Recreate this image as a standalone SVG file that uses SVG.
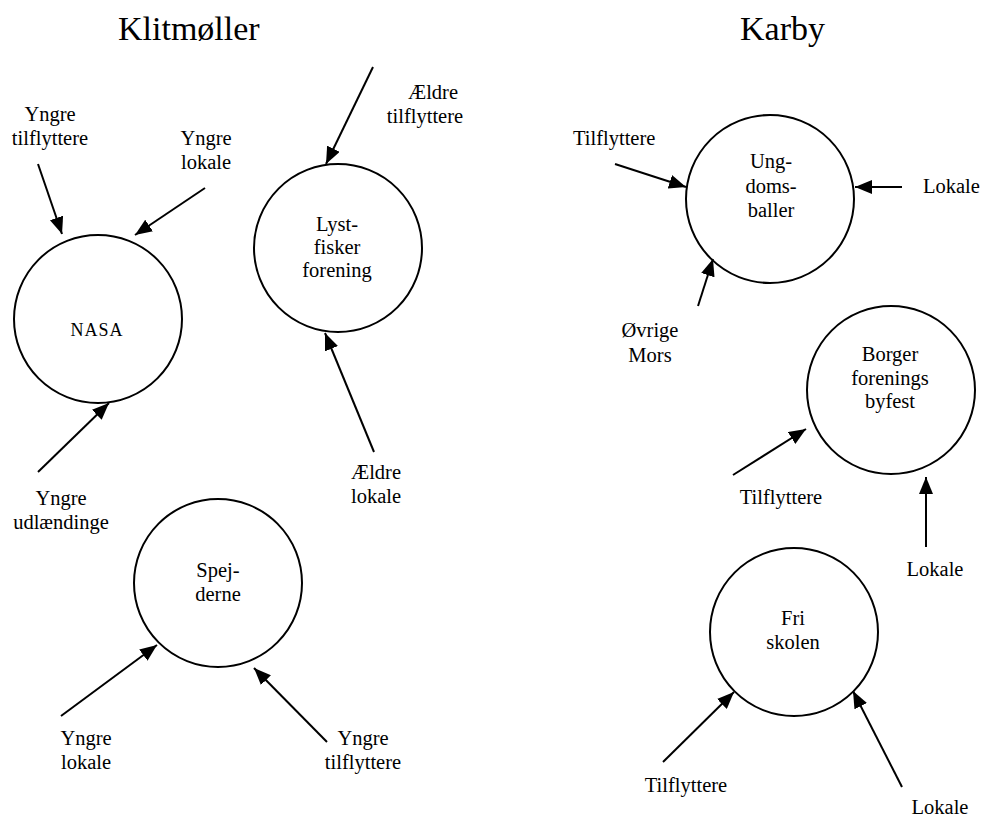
<svg xmlns="http://www.w3.org/2000/svg" width="983" height="820" viewBox="0 0 983 820">
<style>
text{font-family:"Liberation Serif","Times New Roman",serif;font-size:20.5px;fill:#000}
.title{font-size:34px}
.c{fill:#fff;stroke:#000;stroke-width:2}
.m{text-anchor:middle}
#connectors line{stroke:#000;stroke-width:2;marker-end:url(#ah)}
</style>
<defs>
<marker id="ah" markerUnits="userSpaceOnUse" markerWidth="18" markerHeight="14" refX="17" refY="7" orient="auto">
<path d="M0,0 L17,7 L0,14 z" fill="#000"/>
</marker>
</defs>
<rect width="983" height="820" fill="#fff"/>
<text class="title" x="118" y="40">Klitmøller</text>
<text class="title" x="740" y="40">Karby</text>

<g id="nasa"><circle class="c" cx="98" cy="319" r="84"/><text class="m" x="97" y="336" style="font-size:18px;letter-spacing:1px">NASA</text></g>
<g id="lystfisker"><circle class="c" cx="338" cy="248" r="84"/>
<text class="m" x="337" y="231">Lyst-</text><text class="m" x="337" y="254">fisker</text><text class="m" x="337" y="277">forening</text></g>
<g id="spejderne"><circle class="c" cx="218" cy="583" r="84"/>
<text class="m" x="218" y="577">Spej-</text><text class="m" x="218" y="601">derne</text></g>
<g id="ungdomsballer"><circle class="c" cx="770" cy="199" r="84"/>
<text class="m" x="771" y="168">Ung-</text><text class="m" x="771" y="193">doms-</text><text class="m" x="771" y="217">baller</text></g>
<g id="borger"><circle class="c" cx="891" cy="390" r="84"/>
<text class="m" x="890" y="361">Borger</text><text class="m" x="890" y="385">forenings</text><text class="m" x="890" y="408">byfest</text></g>
<g id="friskolen"><circle class="c" cx="794" cy="632" r="84"/>
<text class="m" x="793" y="625">Fri</text><text class="m" x="793" y="649">skolen</text></g>

<g id="labels">
<text class="m" x="50" y="121">Yngre</text><text class="m" x="50" y="145">tilflyttere</text>
<text class="m" x="206" y="145">Yngre</text><text class="m" x="206" y="169">lokale</text>
<text class="m" x="433" y="99">Ældre</text><text class="m" x="425" y="123">tilflyttere</text>
<text class="m" x="376" y="479">Ældre</text><text class="m" x="376" y="503">lokale</text>
<text class="m" x="61" y="505">Yngre</text><text class="m" x="61" y="529">udlændinge</text>
<text class="m" x="86" y="745">Yngre</text><text class="m" x="86" y="769">lokale</text>
<text class="m" x="363" y="745">Yngre</text><text class="m" x="363" y="769">tilflyttere</text>
<text x="573" y="145">Tilflyttere</text>
<text x="923" y="193">Lokale</text>
<text class="m" x="650" y="337">Øvrige</text><text class="m" x="650" y="362">Mors</text>
<text class="m" x="781" y="504">Tilflyttere</text>
<text class="m" x="935" y="576">Lokale</text>
<text class="m" x="686" y="792">Tilflyttere</text>
<text class="m" x="940" y="814">Lokale</text>
</g>

<g id="connectors">
<line x1="38" y1="164" x2="62" y2="234"/>
<line x1="205" y1="188" x2="135" y2="235"/>
<line x1="38" y1="472" x2="109" y2="403"/>
<line x1="373" y1="67" x2="326" y2="164"/>
<line x1="374" y1="452" x2="325" y2="333"/>
<line x1="61" y1="716" x2="157" y2="645"/>
<line x1="327" y1="742" x2="254" y2="668"/>
<line x1="615" y1="164" x2="686" y2="187"/>
<line x1="902" y1="187" x2="855" y2="187"/>
<line x1="698" y1="306" x2="713" y2="259"/>
<line x1="733" y1="475" x2="806" y2="429"/>
<line x1="926" y1="547" x2="926" y2="477"/>
<line x1="663" y1="762" x2="734" y2="692"/>
<line x1="902" y1="787" x2="853" y2="691"/>
</g>
</svg>
